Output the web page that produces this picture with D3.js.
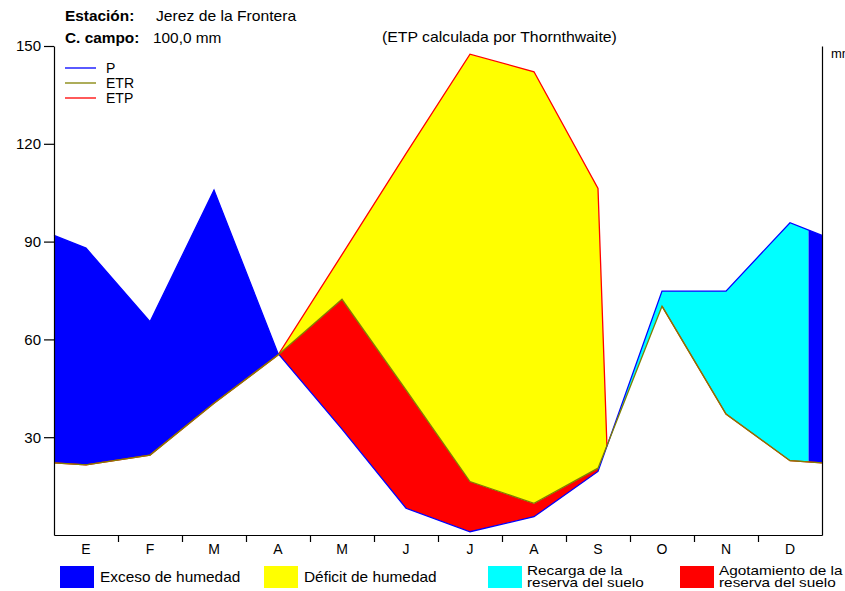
<!DOCTYPE html>
<html>
<head>
<meta charset="utf-8">
<script src="https://cdn.jsdelivr.net/npm/d3@7"></script>
<style>
  html, body { margin: 0; padding: 0; background: #fff; }
  svg { display: block; font-family: "Liberation Sans", Arial, sans-serif; }
</style>
</head>
<body>
<svg id="chart" width="845" height="591"></svg>
<script>
// ---- Data ----
const meses = ["E", "F", "M", "A", "M", "J", "J", "A", "S", "O", "N", "D"];
const P   = [88, 65.4, 105.8, 55.7, 32.5, 8.2, 1.0, 5.6, 19.5, 74.8, 74.8, 95.8];
const ETR = [21.5, 24.5, 40.4, 55.2, 72.3, 44.5, 16.4, 9.7, 20.5, 70.2, 37.1, 22.8];
const ETP = [21.5, 24.5, 40.4, 55.2, 86.0, 117.0, 147.5, 142.1, 106.3, 70.2, 37.1, 22.8];
const yTicks = [30, 60, 90, 120, 150];
const capacidadCampo = 100;      // mm, "C. campo"
const cierreETP = 0.14;          // fraction of the S→O step where the ETP curve closes onto P
const estacion = "Jerez de la Frontera";
const campoTxt = "100,0 mm";
const notaTxt = "(ETP calculada por Thornthwaite)";
const leyendaLineas = [
  { nombre: "P", color: "#0000ff" },
  { nombre: "ETR", color: "#808000" },
  { nombre: "ETP", color: "#ff0000" }
];
const leyendaAreas = [
  { lineas: ["Exceso de humedad"], color: "#0000ff" },
  { lineas: ["Déficit de humedad"], color: "#ffff00" },
  { lineas: ["Recarga de la", "reserva del suelo"], color: "#00ffff" },
  { lineas: ["Agotamiento de la", "reserva del suelo"], color: "#ff0000" }
];

// ---- Layout ----
const svg = d3.select("#chart");
const x = d3.scaleLinear().domain([0, 12]).range([54, 822]);
const y = d3.scaleLinear().domain([0, 150]).range([535, 46]);
const band = d3.scaleBand().domain(d3.range(12)).range([54, 822]);
const FONT = "'Liberation Sans', Arial, sans-serif";

// extended series: monthly points at band centres, closed on the edges by the Dec–Jan step
function ext(arr) {
  const edge = (arr[11] + arr[0]) / 2;
  return [{ p: 0, v: edge }]
    .concat(arr.map((v, i) => ({ p: i + 0.5, v })))
    .concat([{ p: 12, v: edge }]);
}
function valAt(series, p) {
  for (let i = 0; i < series.length - 1; i++) {
    const a = series[i], b = series[i + 1];
    if (p >= a.p && p <= b.p) return a.v + (b.v - a.v) * (p - a.p) / (b.p - a.p);
  }
  return series[series.length - 1].v;
}
const sP = ext(P), sETR = ext(ETR), sETP = ext(ETP);
const slice = (s, a, b) => s.filter(d => d.p >= a - 1e-9 && d.p <= b + 1e-9);

// position where the soil reserve is full again (recharge starts in October)
let acum = 0, finRecarga = 12;
for (let i = 9; i < 12; i++) {
  const exc = P[i] - ETP[i];
  if (acum + exc >= capacidadCampo) { finRecarga = i + (capacidadCampo - acum) / exc; break; }
  acum += exc;
}

const areaGen = d3.area().x(d => x(d.p)).y0(d => y(d.lo)).y1(d => y(d.hi));
function between(top, bottom, a, b) {
  const ps = Array.from(new Set(slice(top, a, b).map(d => d.p).concat([a, b]))).sort((m, n) => m - n);
  return ps.map(p => ({ p, hi: valAt(top, p), lo: valAt(bottom, p) }));
}

const g = svg.append("g");

// Exceso (Jan–Apr)
g.append("path").attr("d", areaGen(between(sP, sETR, 0, 3.5))).attr("fill", "#0000ff");
// Agotamiento (Apr–Sep)
g.append("path").attr("d", areaGen(between(sETR, sP, 3.5, 8.5))).attr("fill", "#ff0000");
// Déficit (Apr–Sep) : ETP on top, ETR below
const cierreP = 8.5 + cierreETP;
const cierre = { p: cierreP, v: valAt(sP, cierreP) };
const defPts = slice(sETP, 3.5, 8.5).concat([cierre]).concat(slice(sETR, 3.5, 8.5).reverse());
g.append("path")
  .attr("d", d3.line().x(d => x(d.p)).y(d => y(d.v))(defPts) + "Z")
  .attr("fill", "#ffff00");
// Recarga (Sep–Dec)
g.append("path").attr("d", areaGen(between(sP, sETR, 8.5, finRecarga))).attr("fill", "#00ffff");
// Exceso (end of Dec)
g.append("path").attr("d", areaGen(between(sP, sETR, finRecarga, 12))).attr("fill", "#0000ff");

// Lines
const lineGen = d3.line().x(d => x(d.p)).y(d => y(d.v));
g.append("path").attr("d", lineGen(slice(sETP, 0, 8.5).concat([cierre])))
  .attr("fill", "none").attr("stroke", "#ff0000").attr("stroke-width", 1.3);
g.append("path").attr("d", lineGen(slice(sETP, 9.5, 12)))
  .attr("fill", "none").attr("stroke", "#ff0000").attr("stroke-width", 1.3);
g.append("path").attr("d", lineGen(sP))
  .attr("fill", "none").attr("stroke", "#0000ff").attr("stroke-width", 1.3);
g.append("path").attr("d", lineGen(sETR))
  .attr("fill", "none").attr("stroke", "#808000").attr("stroke-width", 1.3);

// ---- Axes ----
const yAxis = svg.append("g").attr("transform", `translate(${x(0)},0)`)
  .call(d3.axisLeft(y).tickValues(yTicks).tickSize(10).tickSizeOuter(0).tickPadding(3));
yAxis.selectAll("text").attr("font-size", 15).attr("font-family", FONT).attr("fill", "#000");

svg.append("g").attr("transform", `translate(${x(12)},0)`)
  .call(d3.axisRight(y).tickValues([]).tickSizeOuter(0));

const xAxis = svg.append("g").attr("transform", `translate(0,${y(0)})`)
  .call(d3.axisBottom(x).tickValues(d3.range(1, 12)).tickSize(7).tickSizeOuter(0).tickFormat(""));
const xLab = svg.append("g").attr("transform", `translate(0,${y(0)})`)
  .call(d3.axisBottom(band).tickSize(0).tickPadding(9).tickFormat(i => meses[i]));
xLab.select(".domain").remove();
xLab.selectAll("text").attr("font-size", 14).attr("font-family", FONT).attr("fill", "#000");
svg.selectAll(".domain, .tick line").attr("stroke", "#000").attr("stroke-width", 1.2);

// ---- Texts ----
function txt(xp, yp, s, opts = {}) {
  return svg.append("text")
    .attr("transform", `translate(${xp},${yp}) scale(${opts.sx || 1.1},1)`)
    .attr("font-size", opts.size || 14)
    .attr("font-weight", opts.bold ? "bold" : "normal")
    .attr("font-family", FONT)
    .attr("text-anchor", opts.anchor || "start")
    .attr("fill", "#000")
    .text(s);
}
txt(65, 21, "Estación:", { bold: true });
txt(156, 21, estacion, { sx: 1.12 });
txt(65, 43, "C. campo:", { bold: true });
txt(153, 43, campoTxt);
txt(382, 42, notaTxt, { sx: 1.13 });
txt(831, 58, "mm", { size: 13, sx: 1.0 });

// line legend (top left)
leyendaLineas.forEach((d, i) => {
  const yy = 68 + i * 15;
  svg.append("line").attr("x1", 65).attr("x2", 96).attr("y1", yy).attr("y2", yy)
    .attr("stroke", d.color).attr("stroke-width", 1.3);
  txt(106, yy + 5, d.nombre, { size: 14, sx: 1.0 });
});

// area legend (bottom)
const legX = [60, 264, 488, 680];
leyendaAreas.forEach((d, i) => {
  svg.append("rect").attr("x", legX[i]).attr("y", 566).attr("width", 34).attr("height", 22)
    .attr("fill", d.color);
  if (d.lineas.length === 1) {
    txt(legX[i] + 40, 582, d.lineas[0], { size: 14 });
  } else {
    txt(legX[i] + 39, 575, d.lineas[0], { size: 13, sx: 1.18 });
    txt(legX[i] + 39, 587, d.lineas[1], { size: 13, sx: 1.18 });
  }
});
</script>
</body>
</html>
